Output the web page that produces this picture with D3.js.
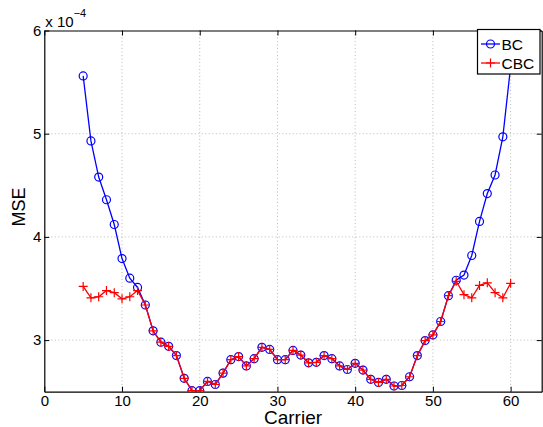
<!DOCTYPE html>
<html>
<head>
<meta charset="utf-8">
<script src="https://cdn.jsdelivr.net/npm/d3@7"></script>
<style>
  body { margin: 0; background: #fff; }
  svg { display: block; font-family: "Liberation Sans", Arial, sans-serif; }
</style>
</head>
<body>
<div id="chart"></div>
<script>
// MSE values are given in units of 1e-4
const carriers = [5, 6, 7, 8, 9, 10, 11, 12, 13, 14, 15, 16, 17, 18, 19, 20,
  21, 22, 23, 24, 25, 26, 27, 28, 29, 30, 31, 32, 33, 34, 35, 36, 37, 38, 39, 40,
  41, 42, 43, 44, 45, 46, 47, 48, 49, 50, 51, 52, 53, 54, 55, 56, 57, 58, 59, 60];

const bcValues = [5.56, 4.93, 4.58, 4.36, 4.12, 3.79, 3.60, 3.51, 3.34, 3.09,
  2.98, 2.94, 2.85, 2.63, 2.51, 2.51, 2.60, 2.57, 2.68, 2.81,
  2.84, 2.75, 2.82, 2.93, 2.91, 2.81, 2.81, 2.90, 2.855, 2.78,
  2.785, 2.85, 2.82, 2.75, 2.715, 2.775, 2.71, 2.62, 2.59, 2.62,
  2.555, 2.56, 2.645, 2.85, 2.995, 3.05, 3.18, 3.43, 3.58, 3.63,
  3.82, 4.15, 4.42, 4.60, 4.97, 5.65];

const cbcValues = [3.52, 3.41, 3.42, 3.48, 3.46, 3.40, 3.42, 3.48, 3.34, 3.09,
  2.98, 2.94, 2.85, 2.63, 2.51, 2.51, 2.60, 2.57, 2.68, 2.81,
  2.84, 2.75, 2.82, 2.93, 2.91, 2.81, 2.81, 2.90, 2.855, 2.78,
  2.785, 2.85, 2.82, 2.75, 2.715, 2.775, 2.71, 2.62, 2.59, 2.62,
  2.555, 2.56, 2.645, 2.85, 2.995, 3.05, 3.18, 3.43, 3.57, 3.44,
  3.41, 3.53, 3.555, 3.46, 3.41, 3.55];

const xTicks = [0, 10, 20, 30, 40, 50, 60];
const yTicks = [3, 4, 5, 6];
const seriesNames = ["BC", "CBC"];

const width = 543, height = 427;
const margin = { left: 44.3, right: 1.3, top: 30.5, bottom: 35.3 };
const graphWidth = width - margin.left - margin.right;
const graphHeight = height - margin.top - margin.bottom;

const svg = d3.select("#chart").append("svg")
  .attr("width", width)
  .attr("height", height);

const graph = svg.append("g")
  .attr("transform", `translate(${margin.left}, ${margin.top})`);

const x = d3.scaleLinear().domain([0, 64]).range([0, graphWidth]);
const y = d3.scaleLinear().domain([2.5, 6]).range([graphHeight, 0]);

// grid
graph.append("g").selectAll("line.gx")
  .data(xTicks.filter(d => d > 0))
  .enter().append("line")
  .attr("x1", d => x(d)).attr("x2", d => x(d))
  .attr("y1", 0).attr("y2", graphHeight)
  .attr("stroke", "#aaa").attr("stroke-width", 0.8)
  .attr("stroke-dasharray", "1,2.5");
graph.append("g").selectAll("line.gy")
  .data(yTicks.filter(d => d < 6))
  .enter().append("line")
  .attr("x1", 0).attr("x2", graphWidth)
  .attr("y1", d => y(d)).attr("y2", d => y(d))
  .attr("stroke", "#aaa").attr("stroke-width", 0.8)
  .attr("stroke-dasharray", "1,2.5");

// axes, ticks pointing inward, box on all sides
const tickLen = 5;
const xAxisGroup = graph.append("g")
  .attr("transform", `translate(0, ${graphHeight})`)
  .call(d3.axisBottom(x).tickValues(xTicks).tickSize(-tickLen).tickPadding(4).tickSizeOuter(0));
const yAxisGroup = graph.append("g")
  .call(d3.axisLeft(y).tickValues(yTicks).tickFormat(d3.format("d"))
    .tickSize(-tickLen).tickPadding(3).tickSizeOuter(0));
graph.append("g")
  .call(d3.axisTop(x).tickValues(xTicks).tickSize(-tickLen).tickFormat("").tickSizeOuter(0));
graph.append("g")
  .attr("transform", `translate(${graphWidth}, 0)`)
  .call(d3.axisRight(y).tickValues(yTicks).tickSize(-tickLen).tickFormat("").tickSizeOuter(0));

graph.selectAll(".domain").attr("stroke", "#000").attr("stroke-width", 1.2);
graph.selectAll(".tick line").attr("stroke", "#000");
graph.selectAll(".tick text")
  .attr("fill", "#000")
  .style("font-size", "15px")
  .style("font-family", "'Liberation Sans', Arial, sans-serif");

// exponent label
const expo = svg.append("text")
  .attr("x", margin.left + 1)
  .attr("y", 27)
  .attr("fill", "#000")
  .style("font-size", "15px");
expo.append("tspan").text("x 10");
expo.append("tspan").attr("dy", -10).style("font-size", "11px").text("\u22124");

// axis labels
svg.append("text")
  .attr("x", margin.left + graphWidth / 2)
  .attr("y", 424)
  .attr("text-anchor", "middle")
  .style("font-size", "19px")
  .text("Carrier");
svg.append("text")
  .attr("transform", `translate(25, 207) rotate(-90)`)
  .attr("text-anchor", "middle")
  .style("font-size", "18px")
  .text("MSE");

// series
const clip = svg.append("clipPath").attr("id", "plotclip")
  .append("rect").attr("x", 0).attr("y", 0)
  .attr("width", graphWidth).attr("height", graphHeight);

const plot = graph.append("g").attr("clip-path", "url(#plotclip)");

const bcData = carriers.map((c, i) => ({ c, v: bcValues[i] }));
const cbcData = carriers.map((c, i) => ({ c, v: cbcValues[i] }));

const line = d3.line().x(d => x(d.c)).y(d => y(d.v));

plot.append("path").datum(bcData)
  .attr("d", line).attr("fill", "none")
  .attr("stroke", "#0000ff").attr("stroke-width", 1.3);
plot.selectAll("circle.bc").data(bcData)
  .enter().append("circle")
  .attr("cx", d => x(d.c)).attr("cy", d => y(d.v)).attr("r", 4)
  .attr("fill", "none").attr("stroke", "#0000ff").attr("stroke-width", 1.2);

plot.append("path").datum(cbcData)
  .attr("d", line).attr("fill", "none")
  .attr("stroke", "#ff0000").attr("stroke-width", 1.3);
const plus = "M-4.5,0H4.5M0,-4.5V4.5";
plot.selectAll("path.cbc").data(cbcData)
  .enter().append("path")
  .attr("transform", d => `translate(${x(d.c)}, ${y(d.v)})`)
  .attr("d", plus)
  .attr("stroke", "#ff0000").attr("stroke-width", 1.2);

// legend
const legend = svg.append("g").attr("transform", "translate(477.5, 29.5)");
legend.append("rect")
  .attr("width", 62.5).attr("height", 44.5)
  .attr("fill", "#fff").attr("stroke", "#000").attr("stroke-width", 1.2);
const colors = ["#0000ff", "#ff0000"];
seriesNames.forEach((name, i) => {
  const gy = 14.5 + i * 19;
  legend.append("line")
    .attr("x1", 3.5).attr("x2", 22.5).attr("y1", gy).attr("y2", gy)
    .attr("stroke", colors[i]).attr("stroke-width", 1.3);
  if (i === 0) {
    legend.append("circle").attr("cx", 13).attr("cy", gy).attr("r", 4)
      .attr("fill", "none").attr("stroke", colors[i]).attr("stroke-width", 1.2);
  } else {
    legend.append("path").attr("transform", `translate(13, ${gy})`)
      .attr("d", plus).attr("stroke", colors[i]).attr("stroke-width", 1.2);
  }
  legend.append("text")
    .attr("x", 24).attr("y", gy + 5.5)
    .style("font-size", "15.5px")
    .text(name);
});
</script>
</body>
</html>
